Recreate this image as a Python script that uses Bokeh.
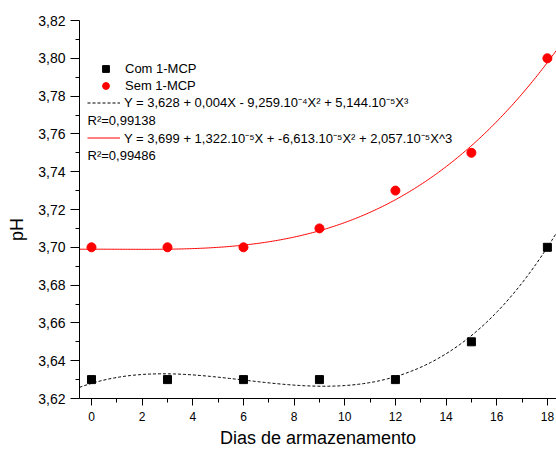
import numpy as np
from bokeh.plotting import figure
from bokeh.models import (Range1d, FixedTicker, CustomJSTickFormatter,
                          Legend, LegendItem, Label)
from bokeh.embed import file_html
from bokeh.resources import INLINE

# ---- data ----
days = [0, 3, 6, 9, 12, 15, 18]
com_mcp = [3.63, 3.63, 3.63, 3.63, 3.63, 3.65, 3.70]
sem_mcp = [3.70, 3.70, 3.70, 3.71, 3.73, 3.75, 3.80]

# fitted polynomial coefficients shown in the legend (c0, c1, c2, c3)
com_coef = [3.628, 0.004, -9.259e-4, 5.144e-5]
sem_coef = [3.699, 1.322e-5, -6.613e-5, 2.057e-5]

x_ticks = [0, 2, 4, 6, 8, 10, 12, 14, 16, 18]
x_minor = [1, 3, 5, 7, 9, 11, 13, 15, 17]
y_ticks = [3.62, 3.64, 3.66, 3.68, 3.70, 3.72, 3.74, 3.76, 3.78, 3.80, 3.82]
y_minor = [3.63, 3.65, 3.67, 3.69, 3.71, 3.73, 3.75, 3.77, 3.79, 3.81]

com_eq = "Y = 3,628 + 0,004X - 9,259.10\u207b\u2074X\u00b2 + 5,144.10\u207b\u2075X\u00b3"
sem_eq = "Y = 3,699 + 1,322.10\u207b\u2075X + -6,613.10\u207b\u2075X\u00b2 + 2,057.10\u207b\u2075X^3"
com_r2 = "R\u00b2=0,99138"
sem_r2 = "R\u00b2=0,99486"

FONT = "Liberation Sans"

X0, X1 = -0.474, 18.36
p = figure(width=556, height=450, output_backend="svg", toolbar_location=None,
           x_range=Range1d(X0, X1), y_range=Range1d(3.62, 3.82),
           min_border_left=79, min_border_right=0, min_border_top=20,
           min_border_bottom=52)
p.outline_line_color = None
p.xgrid.visible = False
p.ygrid.visible = False
p.background_fill_color = "white"
p.border_fill_color = "white"

# fitted curves
xs = np.linspace(X0, X1, 300)
def poly(c, x):
    return c[0] + c[1] * x + c[2] * x ** 2 + c[3] * x ** 3

r_com_line = p.line(xs, poly(com_coef, xs), line_color="black", line_width=1,
                    line_dash="3 2")
r_sem_line = p.line(xs, poly(sem_coef, xs), line_color="red", line_width=1)

r_com = p.scatter(days, com_mcp, marker="square", size=8, fill_color="black",
                  line_color="black")
r_sem = p.scatter(days, sem_mcp, marker="circle", size=9, fill_color="red",
                  line_color="red")

# axes
for ax in (p.xaxis[0], p.yaxis[0]):
    ax.axis_line_color = "black"
    ax.axis_line_width = 1
    ax.major_tick_line_color = "black"
    ax.minor_tick_line_color = "black"
    ax.major_tick_in = 0
    ax.minor_tick_in = 0
    ax.minor_tick_out = 4
    ax.major_label_text_font = FONT
    ax.major_label_text_color = "black"
    ax.axis_label_text_font = FONT
    ax.axis_label_text_font_style = "normal"
    ax.axis_label_text_font_size = "18px"
    ax.axis_label_text_color = "black"

p.xaxis.major_tick_out = 7
p.yaxis.major_tick_out = 9
p.xaxis.major_label_text_font_size = "12px"
p.yaxis.major_label_text_font_size = "14px"
p.xaxis.ticker = FixedTicker(ticks=x_ticks, minor_ticks=x_minor)
p.yaxis.ticker = FixedTicker(ticks=y_ticks, minor_ticks=y_minor)
p.yaxis.formatter = CustomJSTickFormatter(code="return tick.toFixed(2).replace('.', ',');")
p.xaxis.formatter = CustomJSTickFormatter(code="return Math.round(tick).toString();")
p.xaxis.axis_label = "Dias de armazenamento"
p.xaxis.major_label_standoff = 6
p.xaxis.axis_label_standoff = 4
# trailing no-break spaces shift "pH" below the frame centre, as in the reference
p.yaxis.axis_label = "pH" + "\u00a0" * 8
p.yaxis.major_label_standoff = 5
p.yaxis.axis_label_standoff = 8

frame_bottom = 398

# legend
def mk_legend(items, loc, gw, standoff=4):
    return Legend(items=items, location=loc, padding=0, margin=0, spacing=0,
                  glyph_width=gw, glyph_height=17, label_height=17,
                  label_standoff=standoff, border_line_color=None,
                  background_fill_alpha=0, label_text_font=FONT,
                  label_text_font_size="13px", label_text_color="black")

leg_m = mk_legend([LegendItem(label="Com 1-MCP", renderers=[r_com]),
                   LegendItem(label="Sem 1-MCP", renderers=[r_sem])],
                  (13, frame_bottom - 94), 27, 6)
leg_a = mk_legend([LegendItem(label=com_eq, renderers=[r_com_line])],
                  (8, frame_bottom - 111), 33)
leg_b = mk_legend([LegendItem(label=sem_eq, renderers=[r_sem_line])],
                  (8, frame_bottom - 146.5), 33)
for lg in (leg_m, leg_a, leg_b):
    p.add_layout(lg, "center")

for txt, ypix in ((com_r2, 120), (sem_r2, 155)):
    p.add_layout(Label(x=8, y=frame_bottom - ypix, x_units="screen", y_units="screen",
                       text=txt, text_font=FONT, text_font_size="13px",
                       text_baseline="middle", text_color="black"))

open("out.html", "w").write(file_html(p, INLINE))
